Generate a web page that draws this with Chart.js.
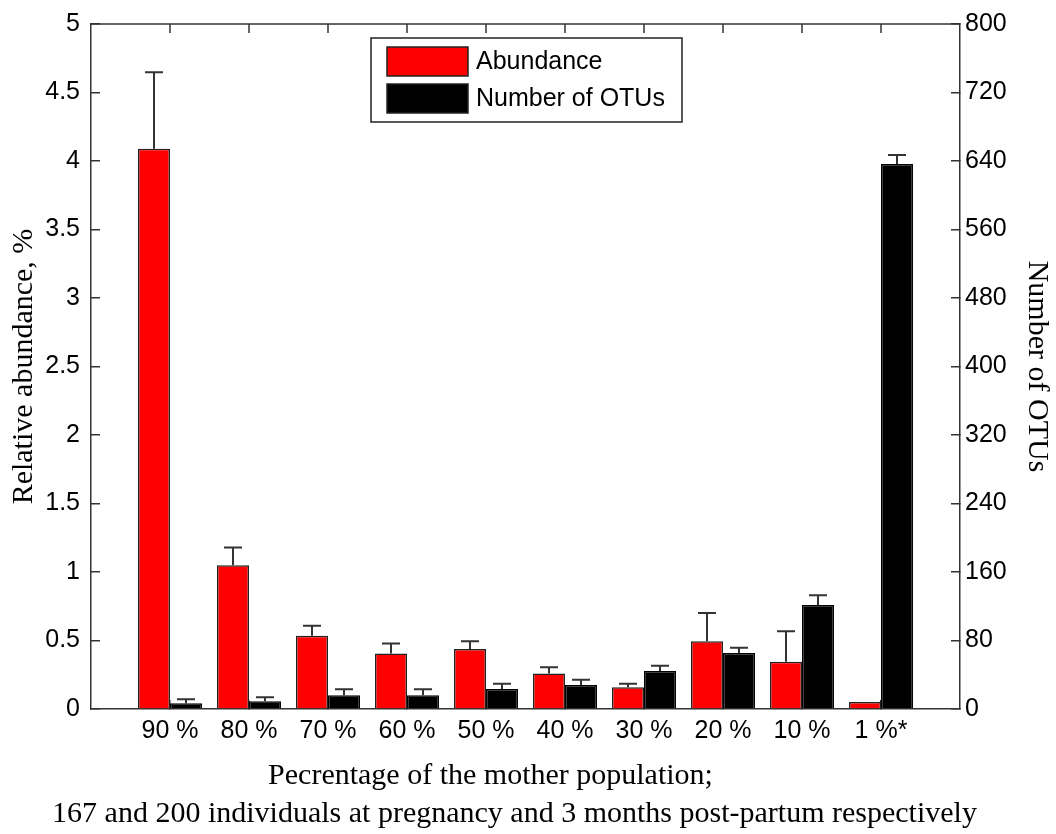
<!DOCTYPE html>
<html>
<head>
<meta charset="utf-8">
<script src="https://cdn.jsdelivr.net/npm/chart.js@4.4.1/dist/chart.umd.min.js"></script>
<style>
  body { margin: 0; background: #fff; }
</style>
</head>
<body>
<canvas id="otuChart" width="1056" height="834"></canvas>
<script>
const categories = ["90 %", "80 %", "70 %", "60 %", "50 %", "40 %", "30 %", "20 %", "10 %", "1 %*"];

// relative abundance (%) and upper error
const abundance = [4.09, 1.05, 0.535, 0.405, 0.438, 0.26, 0.158, 0.494, 0.345, 0.051];
const abundanceErr = [0.557, 0.129, 0.073, 0.073, 0.056, 0.044, 0.027, 0.206, 0.222, 0];

// number of OTUs and upper error
const otus = [6.7, 9, 16, 16, 23.4, 28, 44.4, 65.4, 121.5, 636.5];
const otusErr = [4.6, 4.7, 7, 7, 6.1, 6.2, 6.2, 6.2, 11.3, 10.5];

const xTitle = [
  "Pecrentage of the mother population;",
  "167 and 200 individuals at pregnancy and 3 months post-partum respectively",
];

const tickFont = { family: "Liberation Sans", size: 25 };
const titleFont = { family: "Liberation Serif", size: 30 };
const axisColor = "#333";

// one-sided error bars on top of each bar
const errorBars = {
  id: "errorBars",
  afterDatasetsDraw(chart) {
    const ctx = chart.ctx;
    const sets = [[0, abundance, abundanceErr], [1, otus, otusErr]];
    ctx.save();
    ctx.strokeStyle = "#333";
    ctx.lineWidth = 2;
    sets.forEach(([di, vals, errs]) => {
      const meta = chart.getDatasetMeta(di);
      const yScale = chart.scales[meta.yAxisID];
      meta.data.forEach((bar, i) => {
        if (!errs[i]) return;
        const top = yScale.getPixelForValue(vals[i] + errs[i]);
        ctx.beginPath();
        ctx.moveTo(bar.x, bar.y);
        ctx.lineTo(bar.x, top);
        ctx.moveTo(bar.x - 9, top);
        ctx.lineTo(bar.x + 9, top);
        ctx.stroke();
      });
    });
    ctx.restore();
  },
};

// top edge of the box with inward ticks, the boxed legend and the
// two-line x title (drawn here so the long line is not squeezed)
const frameAndLegend = {
  id: "frameAndLegend",
  afterDraw(chart) {
    const ctx = chart.ctx;
    const area = chart.chartArea;
    const x = chart.scales.x;
    const mid = (area.left + area.right) / 2;
    ctx.save();
    ctx.strokeStyle = axisColor;
    ctx.lineWidth = 1.5;
    ctx.beginPath();
    ctx.moveTo(area.left, area.top);
    ctx.lineTo(area.right, area.top);
    categories.forEach((c, i) => {
      const px = x.getPixelForValue(i + 1);
      ctx.moveTo(px, area.top);
      ctx.lineTo(px, area.top + 9);
    });
    ctx.stroke();

    const boxW = 311, boxH = 84;
    const bx = mid - boxW / 2 + 1;
    const by = area.top + 14;
    ctx.fillStyle = "#fff";
    ctx.fillRect(bx, by, boxW, boxH);
    ctx.strokeStyle = "#222";
    ctx.lineWidth = 1.5;
    ctx.strokeRect(bx, by, boxW, boxH);

    ctx.font = tickFont.size + "px " + tickFont.family;
    ctx.textBaseline = "middle";
    ctx.textAlign = "left";
    chart.data.datasets.forEach((ds, i) => {
      const sy = by + 9 + i * 37;
      ctx.fillStyle = ds.backgroundColor;
      ctx.fillRect(bx + 16, sy, 81, 29);
      ctx.strokeStyle = "#222";
      ctx.strokeRect(bx + 16, sy, 81, 29);
      ctx.fillStyle = "#000";
      ctx.fillText(ds.label, bx + 105, sy + 15);
    });

    ctx.font = titleFont.size + "px " + titleFont.family;
    ctx.textAlign = "center";
    ctx.fillStyle = "#000";
    ctx.fillText(xTitle[0], mid - 35, area.bottom + 67);
    ctx.fillText(xTitle[1], mid - 11, area.bottom + 105);
    ctx.restore();
  },
};

// fixed axis widths; no extra label padding above/below the value axes
function fitValueAxis(width) {
  return (scale) => {
    scale.width = width;
    scale.paddingTop = 0;
    scale.paddingBottom = 0;
  };
}

const ctx = document.getElementById("otuChart");
const myChart = new Chart(ctx, {
  type: "bar",
  data: {
    datasets: [
      {
        label: "Abundance",
        data: abundance.map((v, i) => ({ x: i + 1, y: v })),
        yAxisID: "y",
        backgroundColor: "#ff0000",
        borderColor: "#222",
        borderWidth: 1.5,
        categoryPercentage: 0.81,
        barPercentage: 1,
      },
      {
        label: "Number of OTUs",
        data: otus.map((v, i) => ({ x: i + 1, y: v })),
        yAxisID: "y1",
        backgroundColor: "#000000",
        borderColor: "#000",
        borderWidth: 1.5,
        categoryPercentage: 0.81,
        barPercentage: 1,
      },
    ],
  },
  options: {
    responsive: false,
    animation: false,
    layout: { padding: { top: 24, left: 0, right: 0, bottom: 0 } },
    plugins: {
      legend: { display: false },
      tooltip: { enabled: false },
    },
    scales: {
      x: {
        type: "linear",
        position: "bottom",
        min: 0,
        max: 11,
        offset: false,
        afterBuildTicks: (scale) => {
          scale.ticks = categories.map((c, i) => ({ value: i + 1 }));
        },
        afterFit: (scale) => {
          scale.height = 125;
        },
        ticks: {
          callback: (value, index) => categories[index],
          autoSkip: false,
          maxRotation: 0,
          padding: 16,
          font: tickFont,
          color: "#000",
        },
        grid: { offset: false, drawOnChartArea: false, tickLength: -9, color: axisColor, lineWidth: 1.5 },
        border: { color: axisColor, width: 1.5 },
        title: { display: false },
      },
      y: {
        position: "left",
        min: 0,
        max: 5,
        afterFit: fitValueAxis(91),
        ticks: {
          stepSize: 0.5,
          callback: (v) => String(v),
          padding: 20,
          font: tickFont,
          color: "#000",
        },
        grid: { drawOnChartArea: false, tickLength: -9, color: axisColor, lineWidth: 1.5 },
        border: { color: axisColor, width: 1.5 },
        title: {
          display: true,
          text: "Relative abundance, %",
          font: titleFont,
          color: "#000",
          padding: { top: 6, bottom: 0 },
        },
      },
      y1: {
        position: "right",
        min: 0,
        max: 800,
        afterFit: fitValueAxis(96),
        ticks: {
          stepSize: 80,
          padding: 14,
          font: tickFont,
          color: "#000",
        },
        grid: { drawOnChartArea: false, tickLength: -9, color: axisColor, lineWidth: 1.5 },
        border: { color: axisColor, width: 1.5 },
        title: {
          display: true,
          text: "Number of OTUs",
          font: titleFont,
          color: "#000",
          padding: { top: 1, bottom: 0 },
        },
      },
    },
  },
  plugins: [errorBars, frameAndLegend],
});
</script>
</body>
</html>
